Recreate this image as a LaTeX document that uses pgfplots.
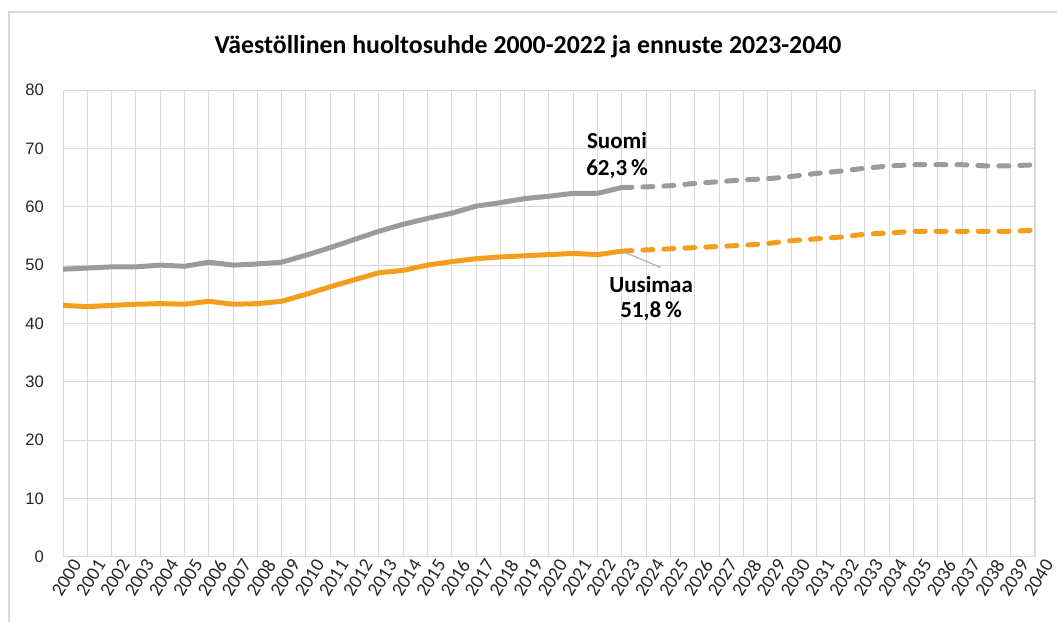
\documentclass[border=0pt]{standalone}
\usepackage{pgfplots}
\pgfplotsset{compat=1.18}
\usepackage{fontspec}
\setmainfont{Liberation Sans}
\newfontfamily\carlito{Carlito}
\definecolor{gridc}{RGB}{217,217,217}
\definecolor{suomi}{RGB}{155,155,155}
\definecolor{uusi}{RGB}{245,158,27}
\pgfplotstableread{
year suomi uusimaa
2000 49.3 43.1
2001 49.5 42.9
2002 49.7 43.1
2003 49.7 43.3
2004 50.0 43.4
2005 49.8 43.3
2006 50.5 43.8
2007 50.0 43.3
2008 50.2 43.4
2009 50.5 43.8
2010 51.7 45.0
2011 53.0 46.3
2012 54.4 47.5
2013 55.8 48.7
2014 57.0 49.1
2015 58.0 50.0
2016 58.9 50.6
2017 60.1 51.1
2018 60.7 51.4
2019 61.4 51.6
2020 61.8 51.8
2021 62.3 52.0
2022 62.3 51.8
2023 63.3 52.4
}\observed
\pgfplotstableread{
year suomi uusimaa
2023 63.3 52.4
2024 63.4 52.6
2025 63.6 52.8
2026 64.0 53.0
2027 64.3 53.2
2028 64.6 53.4
2029 64.8 53.7
2030 65.2 54.2
2031 65.7 54.5
2032 66.1 54.8
2033 66.6 55.3
2034 67.0 55.5
2035 67.2 55.8
2036 67.2 55.8
2037 67.2 55.8
2038 67.0 55.8
2039 67.0 55.8
2040 67.2 56.0
}\forecast
\begin{document}
\begin{tikzpicture}
\useasboundingbox (0,0) rectangle (528.5pt,311pt);
\draw[gridc, line width=0.6pt] (4.5pt,0) -- (4.5pt,305pt) -- (528.5pt,305pt);
\node[font=\carlito\bfseries\fontsize{12.9}{15}\selectfont] at (264pt,287.5pt) {Väestöllinen huoltosuhde 2000-2022 ja ennuste 2023-2040};
\begin{axis}[
  at={(31.5pt,32.5pt)}, anchor=south west,
  scale only axis, width=486pt, height=233.5pt,
  xmin=2000, xmax=2040, ymin=0, ymax=80,
  xtick={2000,...,2040}, ytick={0,10,...,80},
  grid=major, grid style={gridc, line width=0.5pt},
  axis line style={gridc, line width=0.5pt},
  major tick length=0pt,
  /pgf/number format/assume math mode=true,
  /pgf/number format/1000 sep={},
  yticklabel style={font=\fontsize{8.3}{10}\selectfont, text=black!85, xshift=-6pt},
  xticklabel style={font=\carlito\fontsize{9.6}{11}\selectfont, text=black!85, rotate=58, anchor=east, yshift=-7pt, xshift=3pt, inner sep=1pt},
  clip=false,
]
\addplot[suomi, line width=2.5pt, line join=round] table[x=year, y=suomi] {\observed};
\addplot[uusi, line width=2.5pt, line join=round] table[x=year, y=uusimaa] {\observed};
\addplot[suomi, line width=2.5pt, dash pattern=on 5pt off 5.5pt, line cap=round] table[x=year, y=suomi] {\forecast};
\addplot[uusi, line width=2.5pt, dash pattern=on 5pt off 5.5pt, line cap=round] table[x=year, y=uusimaa] {\forecast};
\draw[suomi!80, line width=0.6pt] (axis cs:2023,52.4) -- (axis cs:2024.6,49.6);
\node[font=\carlito\bfseries\fontsize{11.5}{13}\selectfont] at (axis cs:2022.8,71.4) {Suomi};
\node[font=\carlito\bfseries\fontsize{11.5}{13}\selectfont] at (axis cs:2022.8,66.5) {62,3\,\%};
\node[font=\carlito\bfseries\fontsize{11.5}{13}\selectfont] at (axis cs:2024.2,46.6) {Uusimaa};
\node[font=\carlito\bfseries\fontsize{11.5}{13}\selectfont] at (axis cs:2024.2,42.1) {51,8\,\%};
\end{axis}
\end{tikzpicture}
\end{document}
